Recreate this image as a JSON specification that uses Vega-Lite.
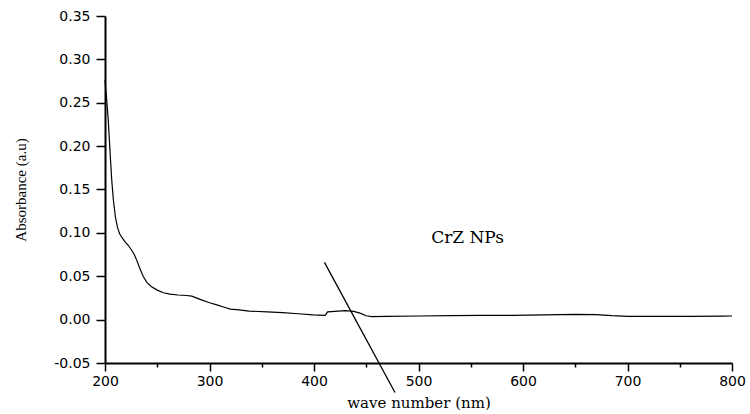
{
  "$schema": "https://vega.github.io/schema/vega-lite/v6.json",
  "width": 627,
  "height": 347,
  "autosize": {"type": "none"},
  "padding": {"left": 105, "top": 16, "right": 18, "bottom": 51},
  "background": "white",
  "config": {
    "view": {"stroke": null},
    "axis": {
      "grid": false,
      "domainColor": "black",
      "domainWidth": 2,
      "tickColor": "black",
      "tickWidth": 1.5,
      "labelColor": "black",
      "labelFont": "DejaVu Sans",
      "labelFontSize": 14,
      "titleColor": "black",
      "titleFontWeight": "normal"
    }
  },
  "layer": [
    {
      "data": {
        "values": [
          {"wavelength": 200, "absorbance": 0.276},
          {"wavelength": 201.5, "absorbance": 0.255},
          {"wavelength": 203, "absorbance": 0.232},
          {"wavelength": 205, "absorbance": 0.19},
          {"wavelength": 206.5, "absorbance": 0.16},
          {"wavelength": 208, "absorbance": 0.138},
          {"wavelength": 210, "absorbance": 0.118},
          {"wavelength": 212, "absorbance": 0.106},
          {"wavelength": 214, "absorbance": 0.099},
          {"wavelength": 216, "absorbance": 0.095},
          {"wavelength": 219, "absorbance": 0.09},
          {"wavelength": 222, "absorbance": 0.086},
          {"wavelength": 225.5, "absorbance": 0.08},
          {"wavelength": 228, "absorbance": 0.075},
          {"wavelength": 230.5, "absorbance": 0.068},
          {"wavelength": 233, "absorbance": 0.06},
          {"wavelength": 236.5, "absorbance": 0.05},
          {"wavelength": 240, "absorbance": 0.043},
          {"wavelength": 244.5, "absorbance": 0.038},
          {"wavelength": 250, "absorbance": 0.034},
          {"wavelength": 256, "absorbance": 0.031},
          {"wavelength": 262, "absorbance": 0.0295},
          {"wavelength": 270, "absorbance": 0.0284},
          {"wavelength": 278, "absorbance": 0.0278},
          {"wavelength": 283, "absorbance": 0.027},
          {"wavelength": 291, "absorbance": 0.0234},
          {"wavelength": 300, "absorbance": 0.0195},
          {"wavelength": 307, "absorbance": 0.017},
          {"wavelength": 315, "absorbance": 0.014},
          {"wavelength": 320, "absorbance": 0.0122},
          {"wavelength": 326, "absorbance": 0.0115},
          {"wavelength": 338, "absorbance": 0.0099},
          {"wavelength": 355, "absorbance": 0.009},
          {"wavelength": 370, "absorbance": 0.008},
          {"wavelength": 385, "absorbance": 0.0068},
          {"wavelength": 399, "absorbance": 0.0055},
          {"wavelength": 410, "absorbance": 0.005},
          {"wavelength": 411, "absorbance": 0.0052},
          {"wavelength": 413, "absorbance": 0.009},
          {"wavelength": 420, "absorbance": 0.0095},
          {"wavelength": 430, "absorbance": 0.0103},
          {"wavelength": 438, "absorbance": 0.0095},
          {"wavelength": 444, "absorbance": 0.0075},
          {"wavelength": 450, "absorbance": 0.0045},
          {"wavelength": 455, "absorbance": 0.0035},
          {"wavelength": 470, "absorbance": 0.0037},
          {"wavelength": 500, "absorbance": 0.0042},
          {"wavelength": 530, "absorbance": 0.0045},
          {"wavelength": 560, "absorbance": 0.005},
          {"wavelength": 590, "absorbance": 0.005},
          {"wavelength": 620, "absorbance": 0.0055},
          {"wavelength": 650, "absorbance": 0.006},
          {"wavelength": 670, "absorbance": 0.0058},
          {"wavelength": 685, "absorbance": 0.0045},
          {"wavelength": 700, "absorbance": 0.0038},
          {"wavelength": 730, "absorbance": 0.0037},
          {"wavelength": 760, "absorbance": 0.0038},
          {"wavelength": 790, "absorbance": 0.004},
          {"wavelength": 800, "absorbance": 0.0042}
        ]
      },
      "mark": {"type": "line", "color": "black", "strokeWidth": 1.2},
      "encoding": {
        "x": {
          "field": "wavelength",
          "type": "quantitative",
          "scale": {"domain": [200, 800], "nice": false, "zero": false},
          "axis": {
            "title": "wave number (nm)",
            "titleFont": "DejaVu Serif",
            "titleFontSize": 15,
            "titlePadding": 7,
            "values": [200, 250, 300, 350, 400, 450, 500, 550, 600, 650, 700, 750, 800],
            "tickSize": {"expr": "datum.value % 100 === 0 ? 8 : 4"},
            "labelExpr": "datum.value % 100 === 0 ? datum.label : ''",
            "labelPadding": 3,
            "labelFlush": false
          }
        },
        "y": {
          "field": "absorbance",
          "type": "quantitative",
          "scale": {"domain": [-0.05, 0.35], "nice": false, "zero": false},
          "axis": {
            "title": "Absorbance (a.u)",
            "titleFont": "Liberation Serif",
            "titleFontSize": 15,
            "titlePadding": 25,
            "values": [-0.05, -0.025, 0, 0.025, 0.05, 0.075, 0.1, 0.125, 0.15, 0.175, 0.2, 0.225, 0.25, 0.275, 0.3, 0.325, 0.35],
            "format": ".2f",
            "tickSize": {"expr": "abs(round(datum.value * 40)) % 2 === 0 ? 9 : 5"},
            "labelExpr": "abs(round(datum.value * 40)) % 2 === 0 ? replace(datum.label, '\u2212', '-') : ''",
            "labelPadding": 6,
            "labelFlush": false
          }
        }
      }
    },
    {
      "data": {"values": [{"wx": 410, "ay": 0.066, "wx2": 477.5, "ay2": -0.084}]},
      "mark": {"type": "rule", "color": "black", "strokeWidth": 1.3, "clip": false},
      "encoding": {
        "x": {"field": "wx", "type": "quantitative"},
        "y": {"field": "ay", "type": "quantitative"},
        "x2": {"field": "wx2"},
        "y2": {"field": "ay2"}
      }
    },
    {
      "data": {"values": [{"wx": 547, "ay": 0.094, "label": "CrZ NPs"}]},
      "mark": {"type": "text", "font": "DejaVu Serif", "fontSize": 17, "color": "black", "align": "center", "baseline": "middle"},
      "encoding": {
        "x": {"field": "wx", "type": "quantitative"},
        "y": {"field": "ay", "type": "quantitative"},
        "text": {"field": "label"}
      }
    }
  ]
}
